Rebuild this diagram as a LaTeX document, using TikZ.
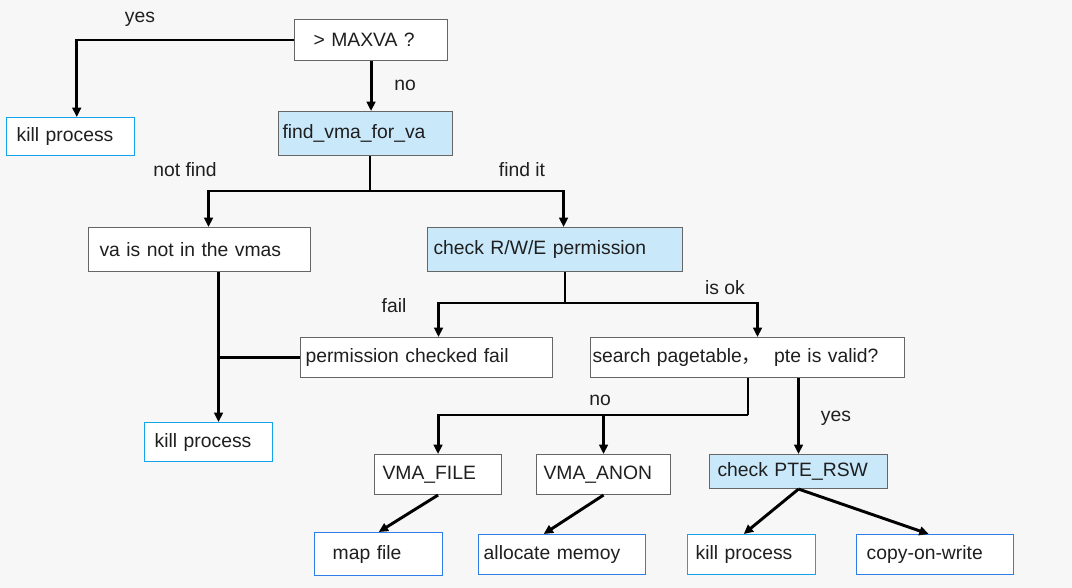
\documentclass[tikz,border=0pt]{standalone}
\usepackage{fontspec}
\setmainfont{Liberation Sans}
\newfontfamily\cjk{Noto Sans CJK SC}
\usetikzlibrary{arrows.meta}
\definecolor{bg}{HTML}{F7F7F7}
\definecolor{edge}{HTML}{666666}
\definecolor{hilite}{HTML}{C9E9FB}
\definecolor{cyanedge}{HTML}{12A4EC}
\definecolor{blueedge}{HTML}{2F7DEA}
\begin{document}
\begin{tikzpicture}[
  x=0.75pt, y=-0.75pt,
  every node/.style={font=\fontsize{14.5}{17}\selectfont, text=black!88},
  box/.style={draw=edge, line width=0.8pt, fill=white, anchor=north west, align=left, inner ysep=0pt},
  test/.style={box, fill=hilite},
  endbox/.style={box, draw=cyanedge, line width=1.1pt},
  outbox/.style={box, draw=blueedge, line width=1.1pt},
  note/.style={inner sep=1pt},
  flow/.style={line width=2.2pt, -{Triangle[length=7pt,width=6.5pt]}},
  link/.style={line width=2.2pt}
]
\useasboundingbox[fill=bg] (0,0) rectangle (1072,588);
\node[box, text width=86.25pt, inner xsep=14.25pt, minimum height=30.75pt] (maxva) at (294,19) {> MAXVA ?};
\node[test, text width=124.5pt, inner xsep=3pt, minimum height=33pt] (find) at (278,111) {find\_vma\_for\_va};
\node[endbox, text width=81pt, inner xsep=7.5pt, minimum height=28.5pt] (kill1) at (6,117) {kill process};
\node[box, text width=150pt, inner xsep=8.25pt, minimum height=33pt] (notin) at (88,227) {va is not in the vmas};
\node[test, text width=182.25pt, inner xsep=4.5pt, minimum height=33pt] (check) at (427,227) {check R/W/E permission};
\node[box, text width=181.5pt, inner xsep=3.75pt, minimum height=30pt] (permfail) at (300,337) {permission checked fail};
\node[box, text width=232.5pt, inner xsep=1.5pt, minimum height=30pt] (search) at (590,337) {search pagetable{\cjk ，}\ \ pte is valid?};
\node[endbox, text width=81pt, inner xsep=7.5pt, minimum height=29.25pt] (kill2) at (144,422) {kill process};
\node[box, text width=83.25pt, inner xsep=6pt, minimum height=30pt] (vfile) at (374,454) {VMA\_FILE};
\node[box, text width=90pt, inner xsep=5.25pt, minimum height=30pt] (vanon) at (536,454) {VMA\_ANON};
\node[test, text width=121.5pt, inner xsep=6pt, minimum height=25.5pt] (pte) at (709,454) {check PTE\_RSW};
\node[outbox, text width=69pt, inner xsep=13.5pt, minimum height=32.25pt] (mapfile) at (314,532) {map file};
\node[outbox, text width=117.75pt, inner xsep=3.75pt, minimum height=30pt] (alloc) at (478,534) {allocate memoy};
\node[endbox, text width=84pt, inner xsep=6pt, minimum height=30pt] (kill3) at (687,534) {kill process};
\node[outbox, text width=102.75pt, inner xsep=7.5pt, minimum height=30pt] (cow) at (856,534) {copy-on-write};
\foreach \x/\y/\word in {140/19/yes, 405/85/no, 185/170/not find, 522/170/find it, 394/306/fail, 725/288/is ok, 600/400/no, 836/418/yes} {
  \node[note] (lbl-\x) at (\x,\y) {\word};
}
\draw[flow] (maxva.west) -| ([xshift=4.5pt]kill1.north);
\draw[flow] (maxva.south) -- (maxva.south |- find.north);
\coordinate (split1) at (370,191);
\draw[link] (find.south -| split1) -- (split1);
\draw[flow] (split1) -| ([xshift=6.75pt]notin.north);
\draw[flow] (split1) -| ([xshift=6.4pt]check.north);
\coordinate (drop) at ([xshift=14.25pt]notin.south);
\draw[flow] (drop) -- (drop |- kill2.north);
\draw[link] (permfail.west) -- (permfail.west -| drop);
\coordinate (split2) at (565,303);
\draw[link] (check.south -| split2) -- (split2);
\draw[flow] (split2) -| ([xshift=9pt]permfail.north);
\draw[flow] (split2) -| ([xshift=7.5pt]search.north);
\coordinate (split3) at (748,415);
\draw[link] (search.south -| split3) -- (split3);
\draw[flow] (split3) -| (vfile.north);
\draw[flow] (vanon.north |- split3) -- (vanon.north);
\draw[flow] (pte.north |- search.south) -- (pte.north);
\draw[flow] (vfile.south) -- (mapfile.north);
\draw[flow] (vanon.south) -- ([xshift=-13.9pt]alloc.north);
\draw[flow] (pte.south) -- ([xshift=-6pt]kill3.north);
\draw[flow] (pte.south) -- ([xshift=-4.9pt]cow.north);
\end{tikzpicture}
\end{document}
